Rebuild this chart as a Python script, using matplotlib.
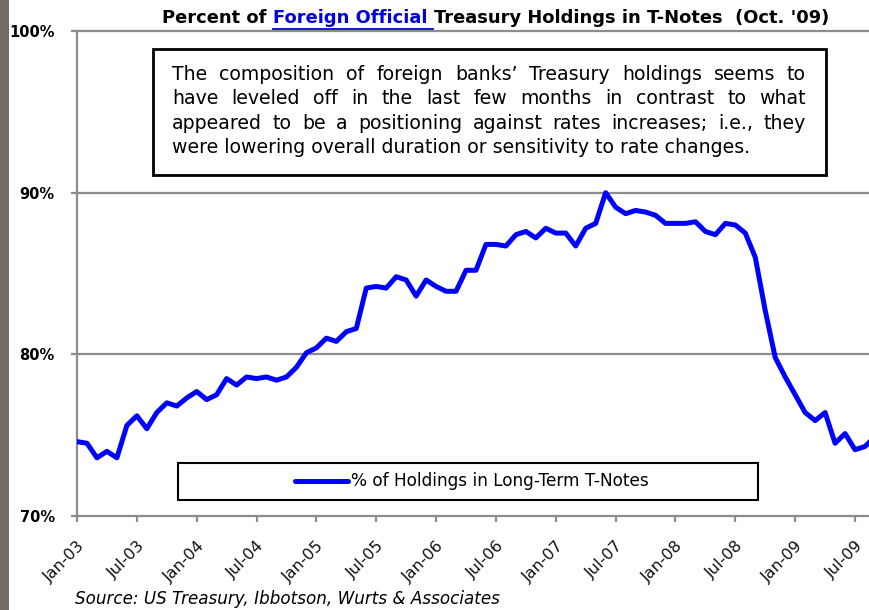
import matplotlib as mpl
mpl.use("Agg")
import matplotlib.pyplot as plt
import matplotlib.transforms as mtransforms
from matplotlib.lines import Line2D
from matplotlib.patches import Rectangle
import numpy as np
import pandas as pd

# monthly data, Jan-03 through Sep-09
months = pd.date_range("2003-01-01", "2009-09-01", freq="MS")
pct_long_notes = [
    74.6, 74.5, 73.6, 74.0, 73.6, 75.6, 76.2, 75.4, 76.4, 77.0, 76.8, 77.3,   # 2003
    77.7, 77.2, 77.5, 78.5, 78.1, 78.6, 78.5, 78.6, 78.4, 78.6, 79.2, 80.1,   # 2004
    80.4, 81.0, 80.8, 81.4, 81.6, 84.1, 84.2, 84.1, 84.8, 84.6, 83.6, 84.6,   # 2005
    84.2, 83.9, 83.9, 85.2, 85.2, 86.8, 86.8, 86.7, 87.4, 87.6, 87.2, 87.8,   # 2006
    87.5, 87.5, 86.7, 87.8, 88.1, 90.0, 89.1, 88.7, 88.9, 88.8, 88.6, 88.1,   # 2007
    88.1, 88.1, 88.2, 87.6, 87.4, 88.1, 88.0, 87.5, 86.0, 82.7, 79.8, 78.6,   # 2008
    77.5, 76.4, 75.9, 76.4, 74.5, 75.1, 74.1, 74.3, 74.9,                     # 2009
]
tick_labels = ["Jan-03", "Jul-03", "Jan-04", "Jul-04", "Jan-05", "Jul-05", "Jan-06",
               "Jul-06", "Jan-07", "Jul-07", "Jan-08", "Jul-08", "Jan-09", "Jul-09"]
ytick_vals = [70, 80, 90, 100]
title_parts = ["Percent of ", "Foreign Official ", "Treasury Holdings in T-Notes  (Oct. '09)"]
note_lines = [
    "The composition of foreign banks\u2019 Treasury holdings seems to",
    "have leveled off in the last few months in contrast to what",
    "appeared to be a positioning against rates increases; i.e., they",
    "were lowering overall duration or sensitivity to rate changes.",
]
series_label = "% of Holdings in Long-Term T-Notes"
source_text = "Source: US Treasury, Ibbotson, Wurts & Associates"

W, H = 870, 610
BLUE = "#0000ff"
GRAY = "#8c8c8c"

def fx(px):
    return px / W

def fy(py):
    return 1 - py / H

fig = plt.figure(figsize=(W / 100, H / 100), dpi=100)
fig.patch.set_facecolor("white")

# gray strip down the left edge of the slide
fig.patches.append(Rectangle((0, 0), fx(9), 1, transform=fig.transFigure,
                             facecolor="#736b62", edgecolor="none", zorder=0))

# plot area (right edge is cropped off in the slide)
ax = fig.add_axes([fx(77), fy(516), fx(870) - fx(77), fy(31) - fy(516)])
x = np.arange(len(months))
ax.plot(x, pct_long_notes, color=BLUE, lw=3.6, solid_joinstyle="round", zorder=3)

ax.set_xlim(0, 79.5)
ax.set_ylim(70, 100)
ax.set_yticks(ytick_vals)
ax.set_yticklabels([f"{v}%" for v in ytick_vals], fontsize=10.5, fontweight="bold")
ax.set_xticks(np.arange(0, len(tick_labels) * 6, 6))
ax.set_xticklabels(tick_labels, fontsize=11.5, rotation=45, ha="right", va="top",
                   rotation_mode="anchor", color="#111111")
# nudge the slanted labels a little to the left, like the Excel layout
shift = mtransforms.ScaledTranslation(-6 / 72, 0, fig.dpi_scale_trans)
for lab in ax.get_xticklabels():
    lab.set_transform(lab.get_transform() + shift)

for v in ytick_vals[1:]:
    ax.axhline(v, color=GRAY, lw=1.6, zorder=1, clip_on=False)
ax.spines["top"].set_visible(False)
ax.spines["right"].set_visible(False)
for s in ("left", "bottom"):
    ax.spines[s].set_color(GRAY)
    ax.spines[s].set_linewidth(1.6)
ax.tick_params(axis="y", length=4, width=1.6, color=GRAY, pad=12)
ax.tick_params(axis="x", length=4, width=1.6, color=GRAY, pad=12)

# title with the hyperlink-styled middle part
renderer = fig.canvas.get_renderer()
tx = fx(162)
title_colors = ["black", "#0000dd", "black"]
title_texts = []
for part, c in zip(title_parts, title_colors):
    t = fig.text(tx, fy(23), part, color=c, fontsize=12.9, fontweight="bold",
                 va="baseline", ha="left")
    bb = t.get_window_extent(renderer)
    title_texts.append((t, bb))
    tx += bb.width / W
link_bb = title_texts[1][1]
fig.lines.append(Line2D([link_bb.x0 / W, link_bb.x1 / W], [fy(28.5), fy(28.5)],
                        transform=fig.transFigure, color="#0000dd", lw=1.3))

# note box with justified text
fig.patches.append(Rectangle((fx(153), fy(175)), fx(826) - fx(153), fy(49) - fy(175),
                             transform=fig.transFigure, facecolor="white",
                             edgecolor="black", lw=2, zorder=4))
left, right = 172, 806
note_size = 13.6
for i, line in enumerate(note_lines):
    yy = fy(80 + i * 24.3)
    if i == len(note_lines) - 1:
        fig.text(fx(left), yy, line, fontsize=note_size, va="baseline", ha="left", zorder=5)
        continue
    words = line.split()
    items = []
    total = 0
    for w in words:
        t = fig.text(0, yy, w, fontsize=note_size, va="baseline", ha="left", zorder=5)
        wd = t.get_window_extent(renderer).width
        items.append((t, wd))
        total += wd
    gap = (right - left - total) / (len(words) - 1)
    px = left
    for t, wd in items:
        t.set_x(fx(px))
        px += wd + gap

# legend box
fig.patches.append(Rectangle((fx(178), fy(500)), fx(758) - fx(178), fy(463) - fy(500),
                             transform=fig.transFigure, facecolor="white",
                             edgecolor="black", lw=1.5, zorder=4))
fig.lines.append(Line2D([fx(295), fx(348)], [fy(481), fy(481)], transform=fig.transFigure,
                        color=BLUE, lw=3.6, solid_capstyle="round", zorder=5))
fig.text(fx(351), fy(481), series_label, fontsize=12.2, va="center", ha="left", zorder=5)

fig.text(fx(75), fy(599), source_text, fontsize=12.1, style="italic", va="center", ha="left")

fig.savefig("out.png", dpi=100)
